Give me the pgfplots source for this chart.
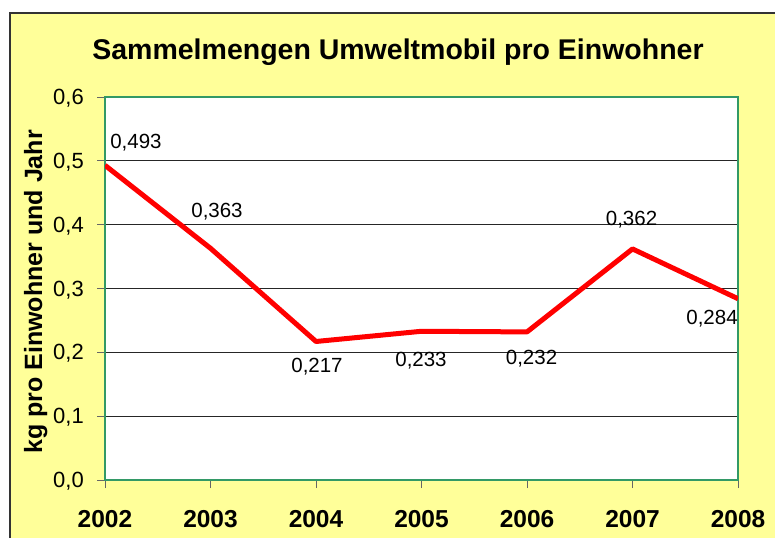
\documentclass[border=0pt]{standalone}
\usepackage{fontspec}
\setmainfont{Liberation Sans}
\usepackage{pgfplots}
\usepackage{pgfplotstable}
\pgfplotsset{compat=1.18}
\definecolor{bgyellow}{HTML}{FFFF99}
\definecolor{framegreen}{HTML}{339966}
\definecolor{linered}{HTML}{FF0000}
\pgfplotstableread{
year value label dx dy
2002 0.493 0,493 31 16.5
2003 0.363 0,363 6.5 30.4
2004 0.217 0,217 1 -31.4
2005 0.233 0,233 -0.5 -35.7
2006 0.232 0,232 4.5 -33
2007 0.362 0,362 -1 23
2008 0.284 0,284 -26 -26
}\datatable
\begin{document}
\begin{tikzpicture}[x=1pt,y=1pt]
\useasboundingbox (0,0) rectangle (775,538);
\fill[white] (0,0) rectangle (775,538);
\fill[bgyellow] (10,0) rectangle (775,525);
\draw[line width=2pt, black!80] (10,0) -- (10,525) -- (775,525);
\node[anchor=base, font=\bfseries\fontsize{28.5}{32}\selectfont] at (398,478) {Sammelmengen Umweltmobil pro Einwohner};
\node[anchor=base, rotate=90, font=\bfseries\fontsize{25}{28}\selectfont] at (42,246) {kg pro Einwohner und Jahr};
\begin{axis}[
  at={(105pt,58pt)}, anchor=south west,
  scale only axis, width=633pt, height=383pt,
  xmin=2002, xmax=2008, ymin=0, ymax=0.6,
  xtick={2002,2003,2004,2005,2006,2007,2008},
  xticklabels={2002,2003,2004,2005,2006,2007,2008},
  ytick={0,0.1,0.2,0.3,0.4,0.5,0.6},
  yticklabels={{0,0},{0,1},{0,2},{0,3},{0,4},{0,5},{0,6}},
  tick align=outside, major tick length=8pt,
  tick style={black!60, line width=1pt},
  xtick pos=bottom, ytick pos=left,
  xticklabel style={anchor=base, inner sep=0pt, yshift=-39pt, font=\bfseries\fontsize{24.5}{28}\selectfont},
  yticklabel style={anchor=base east, inner sep=0pt, xshift=-13pt, yshift=-7.5pt, font=\fontsize{22}{24}\selectfont},
  ymajorgrids, major grid style={black!85, line width=0.9pt},
  axis line style={draw=framegreen, line width=1.6pt},
  axis background/.style={fill=white},
]
\addplot[linered, line width=5pt, line join=round, no markers,
  nodes near coords, point meta=explicit symbolic,
  visualization depends on={\thisrow{dx} \as \dx},
  visualization depends on={\thisrow{dy} \as \dy},
  every node near coord/.append style={anchor=base, inner sep=0pt, xshift=\dx pt, yshift=\dy pt, text=black, font=\fontsize{20.5}{24}\selectfont}]
  table[x=year, y=value, meta=label] {\datatable};
\end{axis}
\end{tikzpicture}
\end{document}
